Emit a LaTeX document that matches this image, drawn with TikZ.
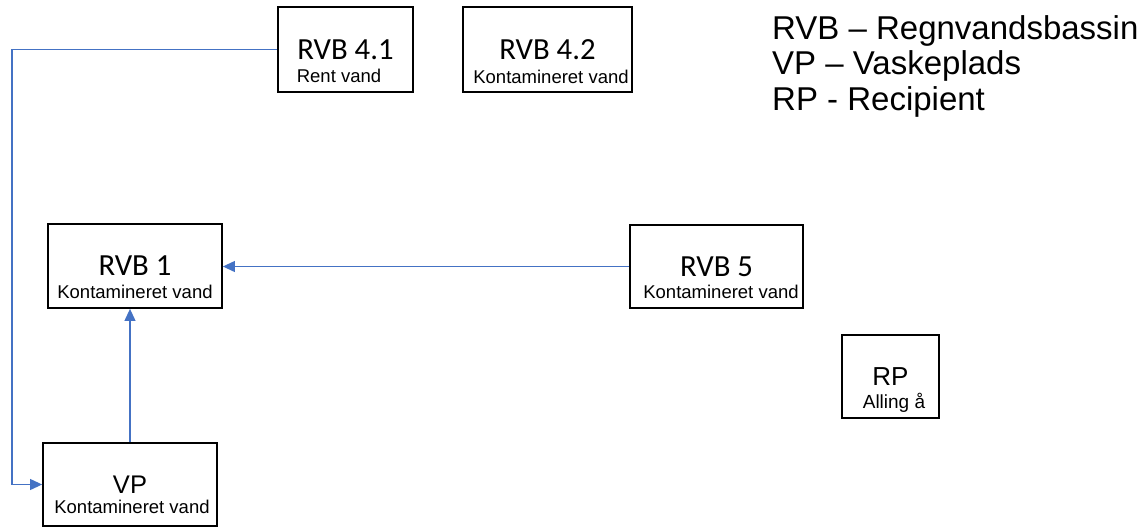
\documentclass[tikz,border=0pt]{standalone}
\usepackage{fontspec}
\setmainfont{Liberation Sans}
\newfontfamily\carlito{Carlito}
\usetikzlibrary{arrows.meta, positioning}
\definecolor{flowblue}{HTML}{4472C4}
\tikzstyle{basin} = [rectangle, minimum height=84pt, inner sep=0pt, draw=black, line width=1.8pt, font=\carlito\fontsize{30.7}{32}\selectfont]
\tikzstyle{site} = [basin, minimum height=83pt, font=\fontsize{25.5}{28}\selectfont]
\tikzstyle{water} = [inner sep=0pt, font=\fontsize{18.5}{20}\selectfont]
\tikzstyle{legend} = [inner sep=0pt, align=left, anchor=base west, font=\fontsize{33}{35.5}\selectfont]
\tikzstyle{arrow} = [draw=flowblue, line width=1.1pt, -{Triangle[length=12pt, width=11pt]}]

\begin{document}
\begin{tikzpicture}[x=1pt, y=-1pt]
	\useasboundingbox (0,0) rectangle (1144,528);

	\node (rvb41) [basin, minimum width=135pt, minimum height=85pt] at (345.5,49.5) {RVB 4.1};
		\node (rvb41w) [water, below=19pt of rvb41.center, xshift=-6.5pt] {Rent vand};
	\node (rvb42) [basin, minimum width=169pt, minimum height=85pt] at (547.5,49.5) {RVB 4.2};
		\node (rvb42w) [water, below=20pt of rvb42.center, xshift=3.5pt] {Kontamineret vand};

	\node (rvb1) [basin, minimum width=174pt] at (135,266) {RVB 1};
		\node (rvb1w) [water, below=18.5pt of rvb1.center] {Kontamineret vand};
	\node (rvb5) [basin, minimum width=173pt, minimum height=83pt] at (716.5,266.5) {RVB 5};
		\node (rvb5w) [water, below=18pt of rvb5.center, xshift=4.5pt] {Kontamineret vand};

	\node (vp) [site, minimum width=174pt] at (130,484.5) {VP};
		\node (vpw) [water, below=15.3pt of vp.center, xshift=2pt] {Kontamineret vand};
	\node (rp) [site, minimum width=97pt, font=\fontsize{26}{28}\selectfont] at (890.5,376.5) {RP};
		\node (rpw) [water, below=16.3pt of rp.center, xshift=3.5pt, font=\fontsize{19}{21}\selectfont] {Alling å};

	% base of a multi-line node is its last line
	\node (legend) [legend] at (772,110) {RVB – Regnvandsbassin\\VP – Vaskeplads\\RP - Recipient};

	\coordinate (corner) at (12,49.5);
		\draw [arrow] (rvb41.west) -- (corner) |- (vp.west);
		\draw [arrow] (rvb5.west) -- (rvb5.west -| rvb1.east);
		\draw [arrow] (vp.north) -- (vp.north |- rvb1.south);

\end{tikzpicture}
\end{document}
